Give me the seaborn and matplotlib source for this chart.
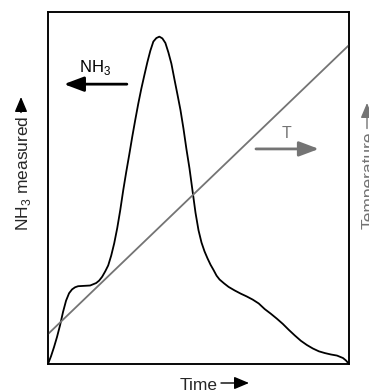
import matplotlib
matplotlib.use("Agg")
import matplotlib.pyplot as plt
import seaborn as sns
import pandas as pd

# NH3 desorption signal versus time (arbitrary units, 0-100)
time_nh3 = [0, 1, 2, 3, 4, 5, 6, 7, 8, 9, 10, 12, 14, 16, 17, 18, 19, 20, 21,
            22, 23, 24, 25, 26, 27, 28, 29, 30, 31, 32, 33, 34, 35, 36, 37, 38,
            39, 40, 41, 42, 43, 44, 45, 46, 47, 48, 49, 50, 51, 52, 53, 54, 55,
            56, 57, 58.5, 60, 62, 64, 66, 68, 70, 72, 74, 76, 78, 80, 82, 84,
            86, 88, 90, 92, 94, 96, 98, 99, 100]
nh3_signal = [0.0, 2.2, 4.8, 7.7, 11.0, 14.8, 18.0, 20.1, 21.2, 21.8, 22.1,
              22.2, 22.3, 23.0, 23.7, 24.8, 26.3, 28.0, 30.8, 34.3, 38.6, 43.7,
              49.4, 54.6, 59.5, 64.6, 69.4, 74.0, 78.2, 82.0, 85.7, 89.0, 91.6,
              92.6, 93.0, 92.5, 91.2, 88.5, 85.3, 80.9, 76.6, 72.2, 66.9, 61.0,
              55.6, 49.3, 43.0, 38.0, 34.5, 32.0, 30.0, 28.2, 26.7, 25.1, 24.0,
              22.9, 21.9, 20.9, 20.0, 19.2, 18.3, 17.2, 15.6, 14.3, 12.9, 11.4,
              9.7, 8.1, 6.6, 5.4, 4.4, 3.6, 3.1, 2.7, 2.4, 1.7, 1.0, 0.0]

# Linear temperature ramp (right-hand scale, arbitrary units)
time_temp = [0.0, 100.0]
temperature = [8.5, 90.6]

GRAY = "#747474"

sns.set_theme(style="white")
plt.rcParams["font.family"] = ["Liberation Sans", "DejaVu Sans"]
plt.rcParams["mathtext.fontset"] = "custom"
plt.rcParams["mathtext.rm"] = "Liberation Sans"

W, H = 369, 391
fig = plt.figure(figsize=(W / 100, H / 100), dpi=100)
ax = fig.add_axes([48 / W, 1 - 364 / H, 301 / W, 352 / H])

df_nh3 = pd.DataFrame({"time": time_nh3, "nh3": nh3_signal})
df_temp = pd.DataFrame({"time": time_temp, "temp": temperature})

sns.lineplot(data=df_nh3, x="time", y="nh3", ax=ax, color="black", lw=1.3)
ax2 = ax.twinx()
sns.lineplot(data=df_temp, x="time", y="temp", ax=ax2, color=GRAY, lw=1.3)

for a in (ax, ax2):
    a.set_xlim(0, 100)
    a.set_ylim(0, 100)
    a.set_xticks([])
    a.set_yticks([])
    a.set_xlabel("")
    a.set_ylabel("")
    for s in a.spines.values():
        s.set_color("black")
        s.set_linewidth(1.1)


def arrow(x0, y0, x1, y1, color, lw, hl, hw, coords="data"):
    ax.annotate("", xy=(x1, y1), xytext=(x0, y0), xycoords=coords,
                textcoords=coords, annotation_clip=False,
                arrowprops=dict(arrowstyle=f"-|>,head_length={hl},head_width={hw}",
                                color=color, lw=lw, shrinkA=0, shrinkB=0,
                                mutation_scale=10))


# In-plot annotations
ax.text(10.4, 83.0, "NH$_3$", fontsize=12, color="black", va="baseline", ha="left")
arrow(26.2, 79.5, 5.3, 79.5, "black", 2.0, 1.2, 0.45)
ax.text(79.4, 64.2, "T", fontsize=11.5, color=GRAY, va="baseline", ha="center")
arrow(69.1, 61.1, 90.0, 61.1, GRAY, 2.0, 1.2, 0.45)

# Axis labels with arrows (figure pixel coordinates)
fs = 12.5
t_time = fig.text(180 / W, 1 - 389.5 / H, "Time", fontsize=fs, ha="left", va="baseline")
t_nh3 = fig.text(28 / W, 1 - 231 / H, "NH$_3$ measured", fontsize=fs, rotation=90,
                 rotation_mode="anchor", ha="left", va="baseline")
t_temp = fig.text(374 / W, 1 - 229 / H, "Temperature", fontsize=fs, rotation=90,
                  rotation_mode="anchor", ha="left", va="baseline", color=GRAY)

fig.canvas.draw()
r = fig.canvas.get_renderer()
bb = t_time.get_window_extent(r)
arrow(bb.x1 + 3, H - 383, 249, H - 383, "black", 1.0, 0.9, 0.38, coords="figure pixels")
bb = t_nh3.get_window_extent(r)
arrow(21, bb.y1 + 3, 21, H - 97, "black", 1.0, 0.9, 0.38, coords="figure pixels")
bb = t_temp.get_window_extent(r)
arrow(367, bb.y1 + 3, 367, H - 103, GRAY, 1.0, 0.9, 0.38, coords="figure pixels")

fig.savefig("out.png", dpi=100, facecolor="white")
